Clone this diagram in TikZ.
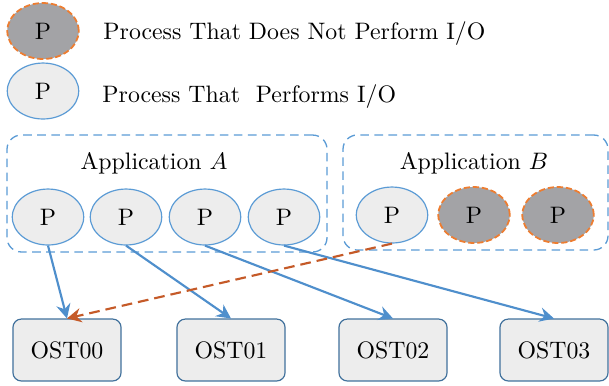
\documentclass[tikz,border=0pt]{standalone}
\usetikzlibrary{shapes.geometric,arrows.meta}

\definecolor{ioblue}{HTML}{5B9BD5}
\definecolor{arrowblue}{HTML}{4F8FCC}
\definecolor{ostedge}{HTML}{41719C}
\definecolor{lightfill}{HTML}{EDEDED}
\definecolor{idlefill}{HTML}{A3A3A6}
\definecolor{idleedge}{HTML}{ED7D31}
\definecolor{dashorange}{HTML}{C55A28}

\tikzset{
  ioproc/.style={ellipse, draw=ioblue, fill=lightfill, line width=0.5pt,
    minimum width=30pt, minimum height=23.5pt, inner sep=0pt},
  idleproc/.style={ellipse, draw=idleedge, fill=idlefill, line width=0.75pt,
    dash pattern=on 2.6pt off 1.2pt,
    minimum width=30pt, minimum height=23.5pt, inner sep=0pt},
  appbox/.style={rectangle, draw=ioblue, line width=0.55pt,
    dash pattern=on 3.6pt off 2.3pt, rounded corners=6pt, inner sep=0pt},
  ostbox/.style={rectangle, draw=ostedge, fill=lightfill, line width=0.5pt,
    rounded corners=3.5pt, minimum width=45.4pt, minimum height=26pt, inner sep=0pt},
  ioarrow/.style={draw=arrowblue, line width=0.9pt,
    -{Stealth[length=6pt,width=6pt,inset=2pt]}},
  idlearrow/.style={draw=dashorange, line width=0.9pt,
    dash pattern=on 4.5pt off 2.5pt,
    -{Stealth[length=6pt,width=6pt,inset=2pt]}},
  legendtext/.style={anchor=base west, inner sep=0pt},
  apptitle/.style={anchor=base, inner sep=0pt}
}

\begin{document}
\begin{tikzpicture}[x=0.42pt,y=-0.42pt]
  \useasboundingbox (0,0) rectangle (609,385);

  % legend
  \node[idleproc] (legidle) at (43,31) {P};
  \node[ioproc]   (legio)   at (43,91) {P};
  \node[legendtext] (legidletext) at (103,39) {Process That Does Not Perform I/O};
  \node[legendtext] (legiotext)   at (102,102) {Process That~\ Performs I/O};

  % application groups
  \node[appbox, minimum width=134.4pt, minimum height=49.1pt] (appA) at (167,193.5) {};
  \node[appbox, minimum width=111.3pt, minimum height=48.3pt] (appB) at (475.5,192.5) {};
  \node[apptitle] (titleA) at (154,169) {Application $A$};
  \node[apptitle] (titleB) at (474,169) {Application $B$};

  % processes of application A
  \node[ioproc] (a1) at (48,217)  {P};
  \node[ioproc] (a2) at (126,217) {P};
  \node[ioproc] (a3) at (205,217) {P};
  \node[ioproc] (a4) at (284,217) {P};

  % processes of application B
  \node[ioproc]   (b1) at (392,215) {P};
  \node[idleproc] (b2) at (474,215) {P};
  \node[idleproc] (b3) at (558,215) {P};

  % storage targets
  \node[ostbox] (ost0) at (67,350)  {OST00};
  \node[ostbox] (ost1) at (231,350) {OST01};
  \node[ostbox] (ost2) at (393,350) {OST02};
  \node[ostbox] (ost3) at (554,350) {OST03};

  % I/O paths
  \draw[ioarrow] (a1.south) -- (ost0.north);
  \draw[ioarrow] (a2.south) -- (ost1.north);
  \draw[ioarrow] (a3.south) -- (ost2.north);
  \draw[ioarrow] (a4.south) -- (ost3.north);
  \draw[idlearrow] (b1.south) -- (ost0.north);
\end{tikzpicture}
\end{document}
